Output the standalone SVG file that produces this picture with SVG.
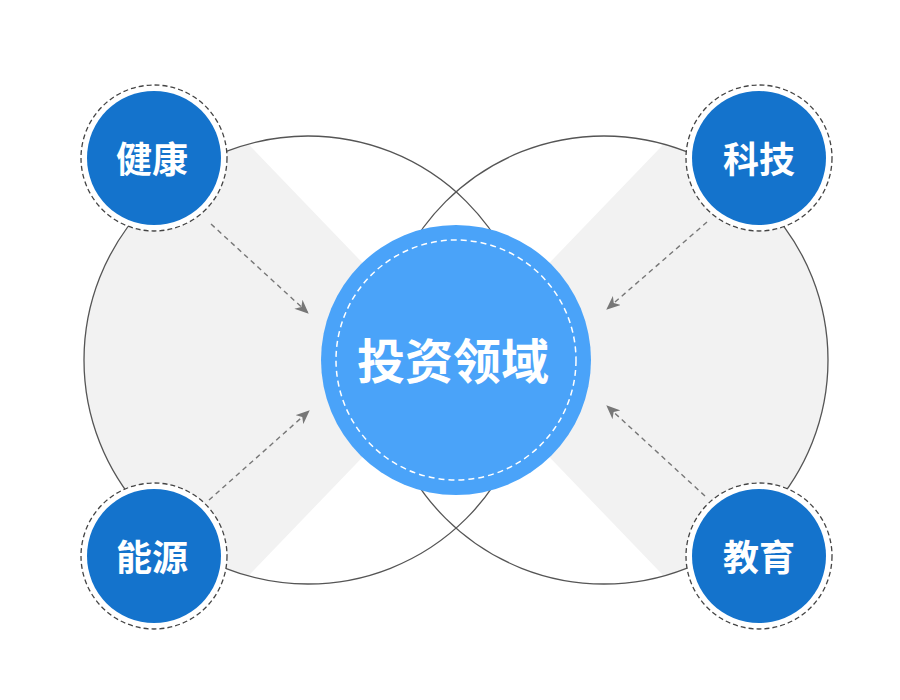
<svg xmlns="http://www.w3.org/2000/svg" width="900" height="700" viewBox="0 0 900 700">
<style>
.big{fill:none;stroke:#555;stroke-width:1.3}
.wedge{fill:#f2f2f2}
.ring{fill:#fff;stroke:#444;stroke-width:1.3;stroke-dasharray:5 3}
.node{fill:#1473cc}
.lbl{fill:#fff;font-family:"Noto Sans CJK SC","Noto Sans",sans-serif;font-weight:bold;font-size:36px;text-anchor:middle;dominant-baseline:central}
.conn{stroke:#777;stroke-width:1.4;stroke-dasharray:5 4;fill:none}
</style>
<defs>
<clipPath id="cl"><circle cx="308" cy="360" r="224"/></clipPath>
<clipPath id="cr"><circle cx="604" cy="360" r="224"/></clipPath>
<marker id="ah" markerUnits="userSpaceOnUse" markerWidth="14" markerHeight="12" refX="13" refY="6" orient="auto" viewBox="0 0 14 12">
<path d="M0,0 L14,6 L0,12 L4,6 Z" fill="#777"/>
</marker>
</defs>
<rect width="900" height="700" fill="#fff"/>
<g id="background">
<polygon class="wedge" points="456,360 0,-114 0,834" clip-path="url(#cl)"/>
<polygon class="wedge" points="456,360 912,-114 912,834" clip-path="url(#cr)"/>
<circle class="big" cx="308" cy="360" r="224"/>
<circle class="big" cx="604" cy="360" r="224"/>
</g>
<g id="connectors">
<line class="conn" x1="211" y1="224" x2="308" y2="313" marker-end="url(#ah)"/>
<line class="conn" x1="209" y1="500" x2="309" y2="411" marker-end="url(#ah)"/>
<line class="conn" x1="707" y1="222" x2="607" y2="309" marker-end="url(#ah)"/>
<line class="conn" x1="705" y1="496" x2="607" y2="406" marker-end="url(#ah)"/>
</g>
<g id="center">
<circle cx="456" cy="360" r="135" fill="#4aa3f9"/>
<circle cx="456" cy="360" r="120" fill="none" stroke="#fff" stroke-width="1.5" stroke-dasharray="6 4"/>
<text class="lbl" x="453" y="358" style="font-size:48px">投资领域</text>
</g>
<g id="node-jiankang">
<circle class="ring" cx="154" cy="158" r="73"/>
<circle class="node" cx="154" cy="158" r="67"/>
<text class="lbl" x="152" y="157">健康</text>
</g>
<g id="node-keji">
<circle class="ring" cx="759" cy="158" r="73"/>
<circle class="node" cx="759" cy="158" r="67"/>
<text class="lbl" x="759" y="157">科技</text>
</g>
<g id="node-nengyuan">
<circle class="ring" cx="154" cy="556" r="73"/>
<circle class="node" cx="154" cy="556" r="67"/>
<text class="lbl" x="152" y="555">能源</text>
</g>
<g id="node-jiaoyu">
<circle class="ring" cx="759" cy="556" r="73"/>
<circle class="node" cx="759" cy="556" r="67"/>
<text class="lbl" x="759" y="555">教育</text>
</g>
</svg>
